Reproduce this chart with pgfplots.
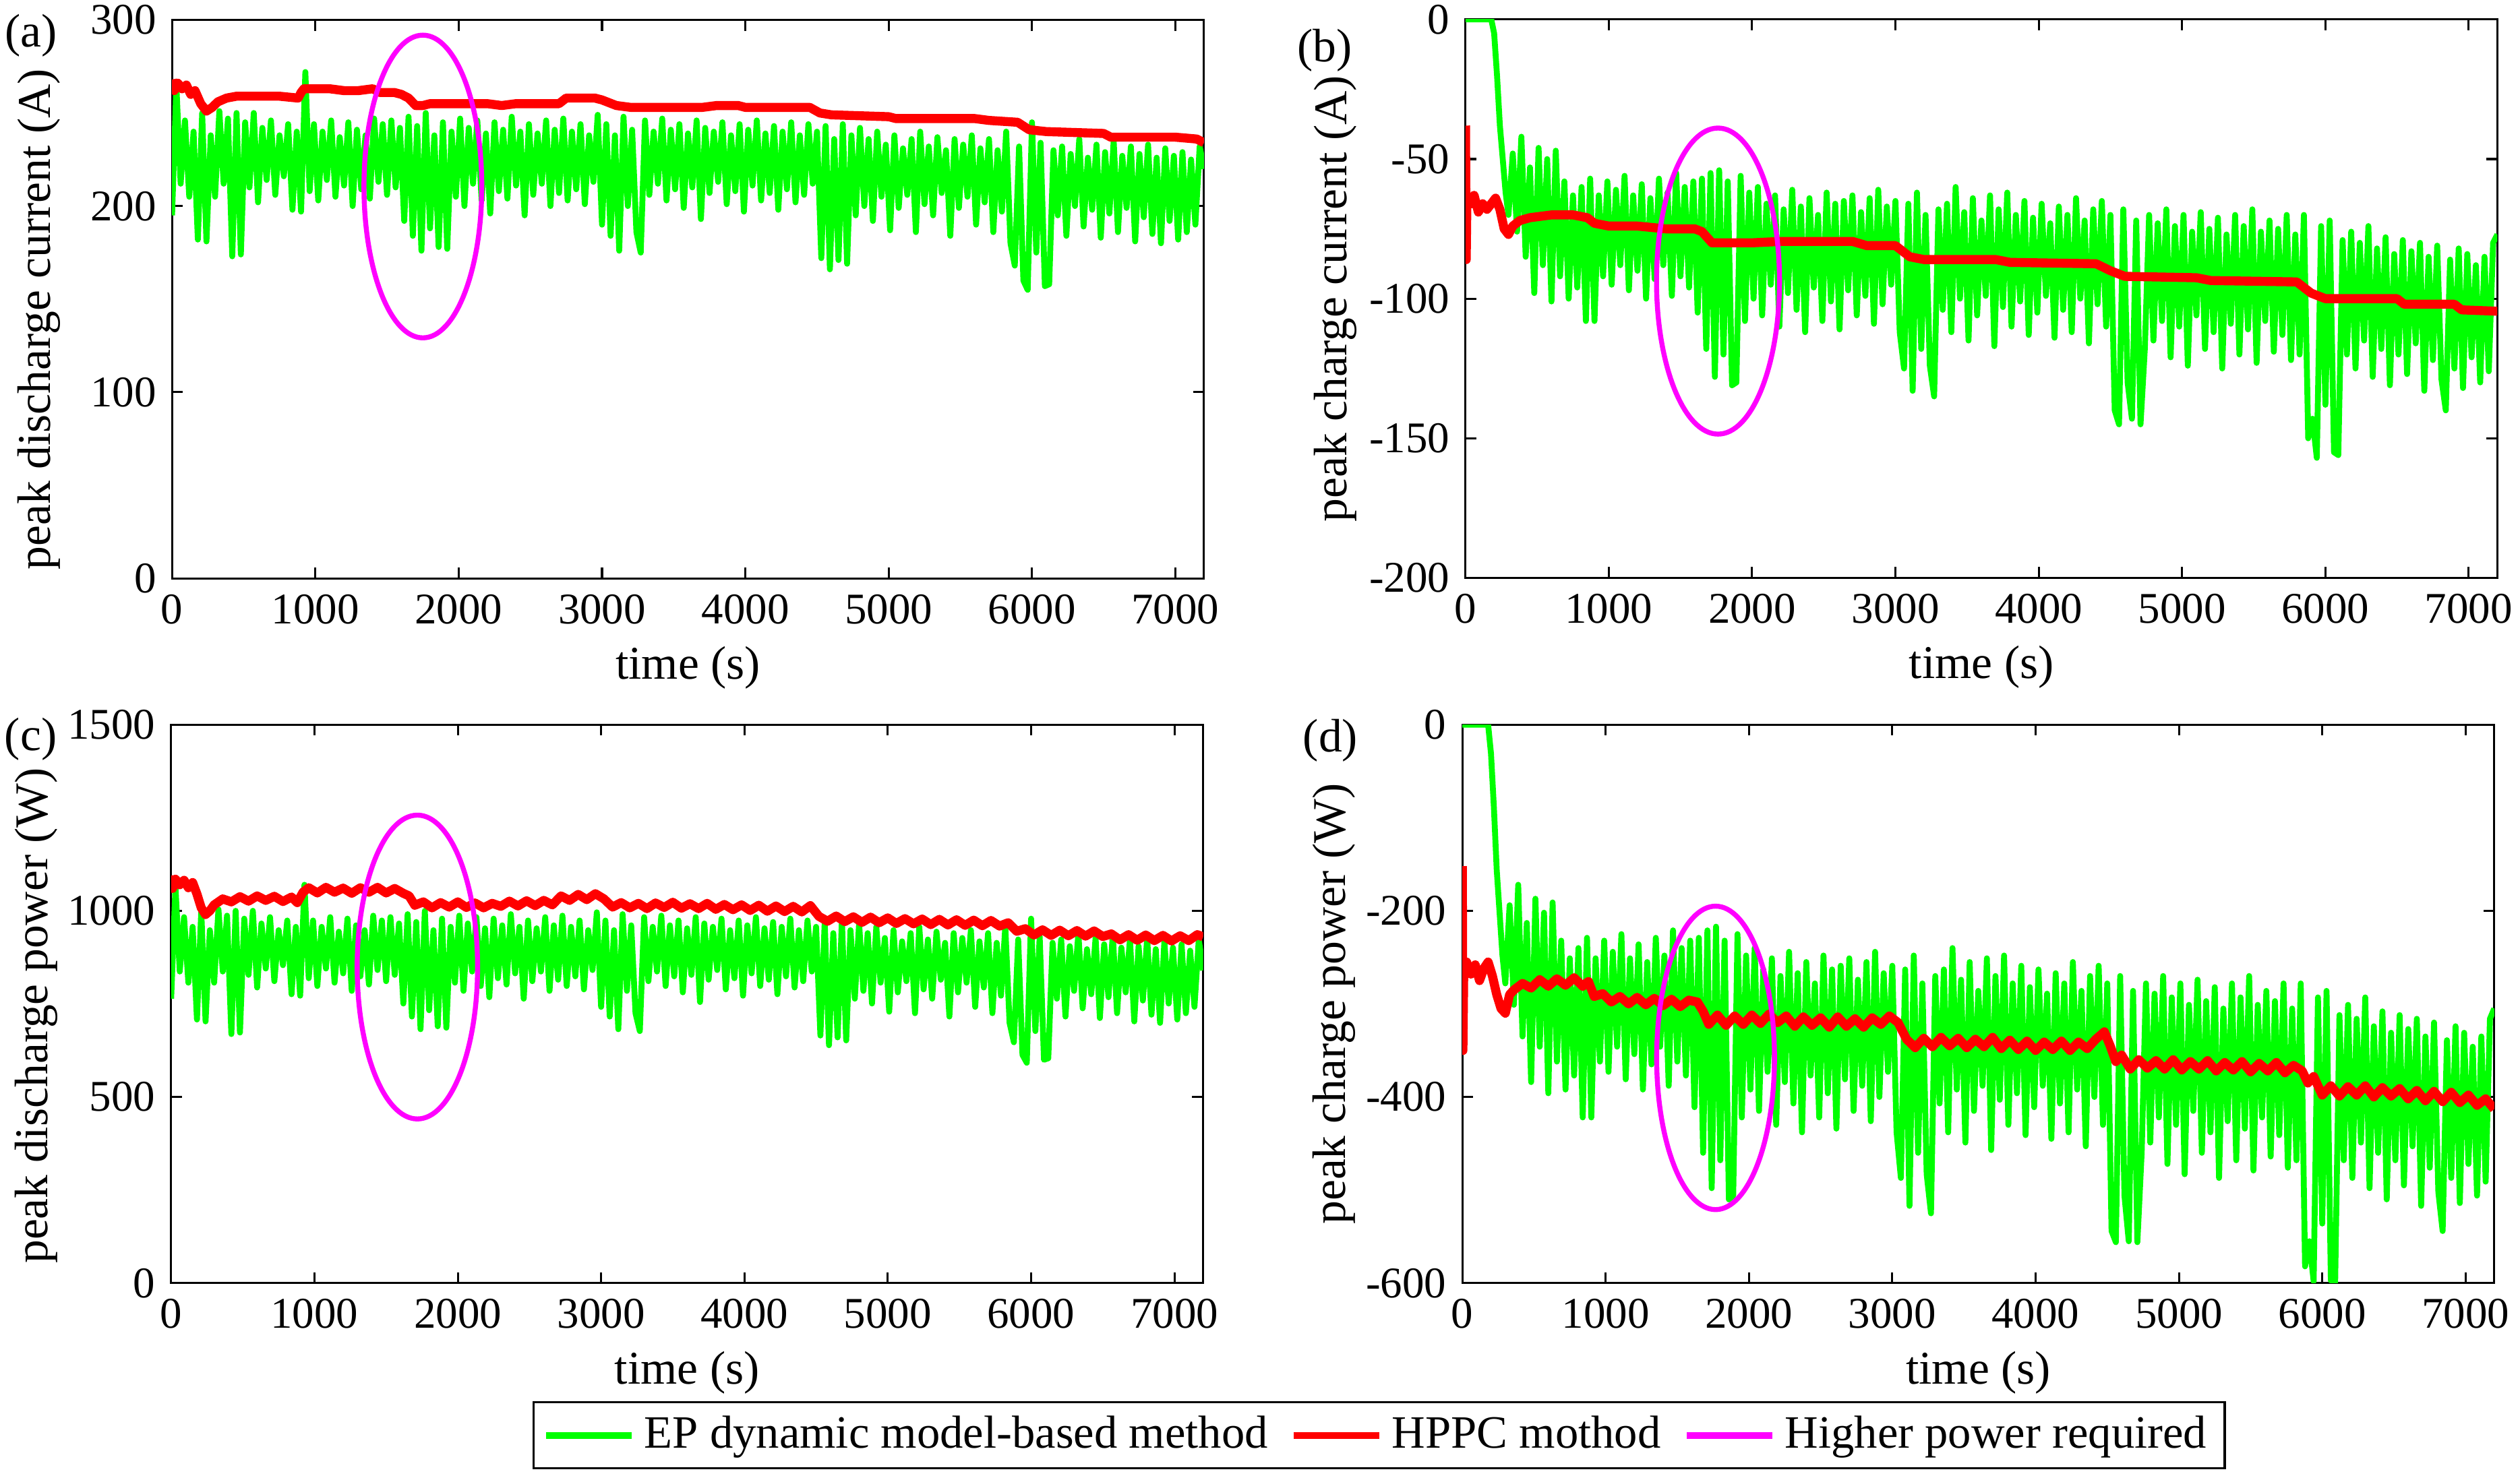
\documentclass[border=0pt]{standalone}
\usepackage{fontspec}
\setmainfont{Liberation Serif}
\usepackage{pgfplots}
\pgfplotsset{compat=1.18}
\definecolor{mgreen}{rgb}{0,1,0}
\definecolor{mred}{rgb}{1,0,0}
\definecolor{mmag}{rgb}{1,0,1}
\tikzset{eline/.style={mmag, line width=1.1pt}}
\pgfplotsset{
 panel/.style={
  scale only axis, width=228.5pt, height=123.7pt,
  xmin=0, xmax=7200,
  xtick={0,1000,2000,3000,4000,5000,6000,7000},
  tick align=inside,
  major tick length=2.4pt,
  axis line style={line width=0.45pt},
  every tick/.style={black, line width=0.45pt},
  scaled ticks=false,
  /pgf/number format/assume math mode=true,
  /pgf/number format/1000 sep={},
  tick label style={font=\fontsize{9.7}{11}\selectfont},
  xlabel={time (s)},
  label style={font=\fontsize{10.4}{12}\selectfont},
  xlabel style={at={(axis description cs:0.5,-0.160)}, anchor=center},
 },
 gline/.style={mgreen, line width=1.3pt, line join=round},
 rline/.style={mred, line width=2pt, line join=round},
}
\begin{document}
\begin{tikzpicture}
\path[use as bounding box] (0pt,0pt) rectangle (558pt,-327.3pt);
\node[font=\fontsize{10.4}{12}\selectfont] at (6.9pt,-7.8pt) {(a)};
\node[font=\fontsize{10.4}{12}\selectfont] at (293.3pt,-11.2pt) {(b)};
\node[font=\fontsize{10.4}{12}\selectfont] at (6.8pt,-163.7pt) {(c)};
\node[font=\fontsize{10.4}{12}\selectfont] at (294.6pt,-164pt) {(d)};

% (a)
\begin{axis}[panel, at={(38.1pt,-128.1pt)}, anchor=south west,
  ymin=0, ymax=300, ytick={0,100,200,300},
  ylabel={peak discharge current (A)},
  ylabel style={at={(axis description cs:-0.129,0.464)}, anchor=center}]
\addplot[gline] coordinates {(0,195)(30,265)(60,212)(90,246)(120,205)(150,240)(180,182)(210,250)(240,181)(270,238)(300,205)(330,251)(360,212)(390,247)(420,173)(450,250)(480,174)(510,245)(540,210)(570,250)(600,202)(630,242)(660,214)(690,246)(720,206)(750,238)(780,216)(810,244)(840,198)(870,240)(900,197)(930,272)(960,208)(990,244)
(1020,203)(1050,240)(1080,214)(1110,246)(1140,205)(1170,237)(1200,211)(1230,245)(1260,200)(1290,241)(1320,209)(1350,238)(1380,204)(1410,247)(1440,213)(1470,244)(1500,206)(1530,246)(1560,210)(1590,242)(1620,192)(1650,248)(1680,184)(1710,243)(1740,176)(1770,250)(1800,188)(1830,238)(1860,178)(1890,245)(1920,177)(1950,240)
(1980,205)(2010,247)(2040,200)(2070,242)(2100,212)(2130,246)(2160,203)(2190,239)(2220,196)(2250,245)(2280,208)(2310,241)(2340,204)(2370,248)(2400,211)(2430,240)(2460,195)(2490,244)(2520,206)(2550,239)(2580,212)(2610,246)(2640,200)(2670,241)(2700,207)(2730,247)(2760,203)(2790,240)(2820,209)(2850,244)(2880,201)(2910,238)(2940,213)(2970,249)
(3000,190)(3030,244)(3060,184)(3090,238)(3120,176)(3150,248)(3180,200)(3210,241)(3240,186)(3270,175)(3300,246)
(3330,206)(3360,240)(3390,212)(3420,247)(3450,203)(3480,241)(3510,209)(3540,244)(3570,199)(3600,239)(3630,210)(3660,246)(3690,193)(3720,242)(3750,207)(3780,240)(3810,213)(3840,245)(3870,201)(3900,238)(3930,208)(3960,244)(3990,197)(4020,241)(4050,211)(4080,246)(4110,203)(4140,239)(4170,207)(4200,243)(4230,198)(4260,240)(4290,209)(4320,245)(4350,202)(4380,238)(4410,206)(4440,244)(4470,212)
(4500,240)(4530,172)(4560,243)(4590,166)(4620,236)(4650,171)(4680,244)(4710,169)(4740,238)(4770,195)(4800,242)
(4830,200)(4860,236)(4890,192)(4920,240)(4950,205)(4980,233)(5010,187)(5040,238)(5070,199)(5100,231)(5130,206)(5160,236)(5190,186)(5220,240)(5250,201)(5280,232)(5310,195)(5340,237)(5370,207)(5400,230)(5430,184)(5460,236)(5490,199)(5520,233)(5550,205)(5580,238)(5610,190)(5640,231)(5670,202)(5700,236)(5730,186)(5760,230)(5790,197)
(5820,240)(5850,180)(5880,168)(5910,232)(5940,160)(5970,155)(6000,245)(6030,175)(6060,234)(6090,157)(6120,158)(6150,230)
(6180,195)(6210,232)(6240,184)(6270,228)(6300,200)(6330,236)(6360,189)(6390,226)(6420,198)(6450,233)(6480,183)(6510,229)(6540,196)(6570,235)(6600,186)(6630,227)(6660,199)(6690,232)(6720,181)(6750,228)(6780,194)(6810,233)(6840,185)(6870,226)(6900,180)(6930,231)(6960,192)(6990,227)(7020,182)(7050,229)(7080,186)(7110,225)(7140,190)(7170,232)(7200,220)};
\addplot[rline] coordinates {(0,268)(15,262)(40,266)(70,263)(100,265)(130,260)(160,262)(200,255)(240,251)(280,253)(320,256)(380,258)(450,259)(600,259)(750,259)(880,258)(900,261)(920,263)(1000,263)(1100,263)(1200,262)(1300,262)(1400,263)(1450,261)(1550,261)(1600,260)(1650,258)(1700,254)(1750,254)(1800,255)(2000,255)(2200,255)(2300,254)(2400,255)(2700,255)(2750,258)(2950,258)(3000,257)(3100,254)(3200,253)(3500,253)(3700,253)(3800,254)(3950,254)(4000,253)(4450,253)(4520,250)(4600,249)(5000,248)(5050,247)(5600,247)(5700,246)(5900,245)(5980,241)(6100,240)(6500,239)(6550,237)(7000,237)(7150,236)(7200,234)};
\draw[eline] (axis cs:1750,210.5) ellipse [x radius=411, y radius=81.3];
\end{axis}

% (b)
\begin{axis}[panel, at={(324.5pt,-128.0pt)}, anchor=south west,
  ymin=-200, ymax=0, ytick={-200,-150,-100,-50,0},
  ylabel={peak charge current (A)},
  ylabel style={at={(axis description cs:-0.126,0.5)}, anchor=center}]
\addplot[gline] coordinates {(0,0)(30,0)(60,0)(90,0)(120,0)(150,0)(180,0)(200,-5)(220,-20)(240,-38)(260,-50)(280,-62)(300,-70)(330,-48)(360,-76)(390,-42)(420,-85)(450,-53)(480,-98)(510,-46)(540,-88)(570,-50)(600,-101)(630,-47)(660,-92)(690,-58)(720,-100)(750,-63)(780,-96)(810,-60)(840,-108)(870,-57)(900,-108)(930,-63)(960,-92)(990,-58)
(1020,-95)(1050,-61)(1080,-88)(1110,-56)(1140,-97)(1170,-63)(1200,-90)(1230,-59)(1260,-100)(1290,-64)(1320,-93)(1350,-57)(1380,-88)(1410,-62)(1440,-99)(1470,-55)(1500,-92)(1530,-60)(1560,-96)(1590,-58)(1620,-105)(1650,-57)(1680,-118)(1710,-55)(1740,-128)(1770,-54)(1800,-120)(1830,-58)(1860,-131)(1890,-130)(1920,-56)(1950,-108)
(1980,-62)(2010,-100)(2040,-60)(2070,-106)(2100,-66)(2130,-95)(2160,-63)(2190,-110)(2220,-68)(2250,-98)(2280,-61)(2310,-104)(2340,-67)(2370,-112)(2400,-64)(2430,-96)(2460,-70)(2490,-108)(2520,-62)(2550,-101)(2580,-66)(2610,-111)(2640,-65)(2670,-97)(2700,-63)(2730,-106)(2760,-69)(2790,-99)(2820,-64)(2850,-109)(2880,-61)(2910,-102)(2940,-67)(2970,-95)
(3000,-65)(3030,-112)(3060,-125)(3090,-66)(3120,-133)(3150,-62)(3180,-118)(3210,-70)(3240,-124)(3270,-135)(3300,-68)
(3330,-104)(3360,-66)(3390,-112)(3420,-60)(3450,-100)(3480,-69)(3510,-115)(3540,-64)(3570,-106)(3600,-72)(3630,-99)(3660,-63)(3690,-117)(3720,-68)(3750,-103)(3780,-62)(3810,-110)(3840,-70)(3870,-101)(3900,-65)(3930,-113)(3960,-71)(3990,-105)(4020,-66)(4050,-99)(4080,-73)(4110,-114)(4140,-67)(4170,-104)(4200,-70)(4230,-112)(4260,-64)(4290,-100)(4320,-72)(4350,-116)(4380,-68)(4410,-102)(4440,-65)(4470,-110)
(4500,-70)(4530,-140)(4560,-145)(4590,-68)(4620,-130)(4650,-143)(4680,-72)(4710,-145)(4740,-118)(4770,-70)(4800,-115)
(4830,-73)(4860,-108)(4890,-68)(4920,-121)(4950,-74)(4980,-110)(5010,-70)(5040,-124)(5070,-76)(5100,-106)(5130,-69)(5160,-118)(5190,-75)(5220,-112)(5250,-71)(5280,-125)(5310,-77)(5340,-109)(5370,-70)(5400,-120)(5430,-74)(5460,-111)(5490,-68)(5520,-123)(5550,-76)(5580,-108)(5610,-72)(5640,-119)(5670,-75)(5700,-113)(5730,-70)(5760,-122)(5790,-77)
(5820,-120)(5850,-70)(5880,-150)(5910,-143)(5940,-157)(5970,-74)(6000,-138)(6030,-72)(6060,-155)(6090,-156)(6120,-79)
(6150,-120)(6180,-76)(6210,-125)(6240,-80)(6270,-115)(6300,-74)(6330,-128)(6360,-82)(6390,-118)(6420,-78)(6450,-131)(6480,-84)(6510,-120)(6540,-79)(6570,-127)(6600,-83)(6630,-116)(6660,-80)(6690,-133)(6720,-85)(6750,-122)(6780,-81)(6810,-129)(6840,-140)(6870,-86)(6900,-125)(6930,-82)(6960,-132)(6990,-84)(7020,-121)(7050,-88)(7080,-130)(7110,-85)(7140,-126)(7170,-80)(7200,-77)};
\addplot[rline] coordinates {(0,-38)(5,-86)(10,-64)(40,-66)(60,-63)(90,-69)(120,-66)(150,-68)(180,-66)(210,-64)(240,-68)(270,-75)(300,-77)(330,-74)(380,-72)(450,-71)(600,-70)(750,-70)(850,-71)(900,-73)(1000,-74)(1200,-74)(1400,-75)(1600,-75)(1650,-76)(1720,-80)(1800,-80)(2000,-80)(2200,-79.5)(2700,-79.5)(2800,-81)(3000,-81)(3100,-85)(3200,-86)(3700,-86)(3800,-87)(4400,-87.5)(4500,-90)(4600,-92)(5100,-92.5)(5200,-93.5)(5800,-94)(5900,-98)(6000,-100)(6500,-100)(6550,-102)(6900,-102)(6950,-104)(7200,-104.5)};
\draw[eline] (axis cs:1762,-93.7) ellipse [x radius=429, y radius=54.8];
\end{axis}

% (c)
\begin{axis}[panel, at={(37.9pt,-284.2pt)}, anchor=south west,
  ymin=0, ymax=1500, ytick={0,500,1000,1500},
  ylabel={peak discharge power (W)},
  ylabel style={at={(axis description cs:-0.131,0.479)}, anchor=center}]
\addplot[gline] coordinates {(0,764)(30,1065)(60,837)(90,983)(120,807)(150,957)(180,708)(210,1000)(240,703)(270,948)(300,807)(330,1004)(360,837)(390,987)(420,669)(450,1000)(480,673)(510,979)(540,828)(570,1000)(600,794)(630,966)(660,845)(690,983)(720,811)(750,948)(780,854)(810,974)(840,776)(870,957)(900,772)(930,1070)(960,819)(990,974)
(1020,798)(1050,957)(1080,845)(1110,983)(1140,807)(1170,944)(1200,832)(1230,979)(1260,785)(1290,961)(1320,824)(1350,948)(1380,802)(1410,987)(1440,841)(1470,974)(1500,811)(1530,983)(1560,828)(1590,966)(1620,751)(1650,991)(1680,716)(1710,970)(1740,682)(1770,1000)(1800,733)(1830,948)(1860,690)(1890,979)(1920,686)(1950,957)
(1980,807)(2010,987)(2040,785)(2070,966)(2100,837)(2130,983)(2160,798)(2190,953)(2220,768)(2250,979)(2280,819)(2310,961)(2340,802)(2370,991)(2400,832)(2430,957)(2460,764)(2490,974)(2520,811)(2550,953)(2580,837)(2610,983)(2640,785)(2670,961)(2700,815)(2730,987)(2760,798)(2790,957)(2820,824)(2850,974)(2880,789)(2910,948)(2940,841)(2970,996)
(3000,742)(3030,974)(3060,716)(3090,948)(3120,682)(3150,991)(3180,785)(3210,961)(3240,725)(3270,677)(3300,983)
(3330,811)(3360,957)(3390,837)(3420,987)(3450,798)(3480,961)(3510,824)(3540,974)(3570,781)(3600,953)(3630,828)(3660,983)(3690,755)(3720,966)(3750,815)(3780,957)(3810,841)(3840,979)(3870,789)(3900,948)(3930,819)(3960,974)(3990,772)(4020,961)(4050,832)(4080,983)(4110,798)(4140,953)(4170,815)(4200,970)(4230,776)(4260,957)(4290,824)(4320,979)(4350,794)(4380,948)(4410,811)(4440,974)(4470,837)
(4500,957)(4530,665)(4560,970)(4590,639)(4620,940)(4650,660)(4680,974)(4710,652)(4740,948)(4770,764)(4800,966)
(4830,785)(4860,940)(4890,751)(4920,957)(4950,807)(4980,927)(5010,729)(5040,948)(5070,781)(5100,918)(5130,811)(5160,940)(5190,725)(5220,957)(5250,789)(5280,923)(5310,764)(5340,944)(5370,815)(5400,914)(5430,716)(5460,940)(5490,781)(5520,927)(5550,807)(5580,948)(5610,742)(5640,918)(5670,794)(5700,940)(5730,725)(5760,914)(5790,772)
(5820,957)(5850,699)(5880,647)(5910,923)(5940,613)(5970,592)(6000,979)(6030,677)(6060,931)(6090,600)(6120,604)(6150,914)
(6180,764)(6210,923)(6240,716)(6270,905)(6300,785)(6330,940)(6360,738)(6390,897)(6420,776)(6450,927)(6480,712)(6510,910)(6540,768)(6570,936)(6600,725)(6630,901)(6660,781)(6690,923)(6720,703)(6750,905)(6780,759)(6810,927)(6840,721)(6870,897)(6900,699)(6930,918)(6960,751)(6990,901)(7020,708)(7050,910)(7080,725)(7110,893)(7140,742)(7170,923)(7200,840)};
\addplot[rline] coordinates {(0,1095)(10,1060)(30,1085)(60,1070)(90,1082)(120,1062)(150,1076)(180,1045)(210,1008)(240,990)(270,1000)(300,1016)(360,1032)(420,1024)(480,1038)(540,1026)(600,1040)(660,1028)(720,1039)(780,1025)(840,1037)(880,1022)(920,1050)(960,1062)(1020,1048)(1080,1063)(1140,1050)(1200,1061)(1260,1047)(1320,1062)(1380,1050)(1440,1063)(1500,1048)(1560,1060)(1620,1047)(1660,1040)(1700,1015)(1760,1024)(1820,1008)(1880,1022)(1940,1010)(2000,1024)(2060,1009)(2120,1021)(2180,1008)(2240,1020)(2300,1012)(2360,1026)(2420,1013)(2480,1027)(2540,1014)(2600,1028)(2660,1016)(2720,1040)(2780,1028)(2840,1044)(2900,1030)(2960,1046)(3020,1032)(3080,1010)(3140,1022)(3200,1008)(3260,1020)(3320,1006)(3380,1021)(3440,1009)(3500,1023)(3560,1007)(3620,1019)(3680,1006)(3740,1020)(3800,1004)(3860,1017)(3920,1003)(3980,1016)(4040,1001)(4100,1015)(4160,999)(4220,1013)(4280,998)(4340,1012)(4400,997)(4460,1014)(4520,985)(4580,972)(4640,986)(4700,971)(4760,984)(4820,969)(4880,983)(4940,968)(5000,981)(5060,966)(5120,979)(5180,965)(5240,978)(5300,963)(5360,977)(5420,962)(5480,976)(5540,961)(5600,975)(5660,960)(5720,974)(5780,959)(5840,968)(5900,945)(5960,952)(6020,935)(6080,949)(6140,934)(6200,948)(6260,933)(6320,947)(6380,932)(6440,946)(6500,931)(6560,938)(6620,922)(6680,936)(6740,921)(6800,935)(6860,920)(6920,934)(6980,919)(7040,933)(7100,920)(7160,936)(7200,930)};
\draw[eline] (axis cs:1718,849) ellipse [x radius=420, y radius=408];
\end{axis}

% (d)
\begin{axis}[panel, at={(323.8pt,-284.2pt)}, anchor=south west,
  ymin=-600, ymax=0, ytick={-600,-400,-200,0},
  ylabel={peak charge power (W)},
  ylabel style={at={(axis description cs:-0.124,0.5)}, anchor=center}]
\addplot[gline] coordinates {(0,0)(30,0)(60,0)(90,0)(120,0)(150,0)(180,0)(200,-31)(220,-88)(240,-156)(260,-202)(280,-248)(300,-278)(330,-194)(360,-301)(390,-172)(420,-335)(450,-213)(480,-384)(510,-187)(540,-346)(570,-202)(600,-396)(630,-191)(660,-362)(690,-232)(720,-392)(750,-251)(780,-377)(810,-240)(840,-422)(870,-229)(900,-422)(930,-251)(960,-362)(990,-232)
(1020,-373)(1050,-244)(1080,-346)(1110,-225)(1140,-381)(1170,-251)(1200,-354)(1230,-236)(1260,-392)(1290,-255)(1320,-365)(1350,-229)(1380,-346)(1410,-248)(1440,-388)(1470,-221)(1500,-362)(1530,-240)(1560,-377)(1590,-232)(1620,-411)(1650,-229)(1680,-460)(1710,-221)(1740,-498)(1770,-217)(1800,-468)(1830,-232)(1860,-510)(1890,-506)(1920,-225)(1950,-422)
(1980,-248)(2010,-392)(2040,-240)(2070,-415)(2100,-263)(2130,-373)(2160,-251)(2190,-430)(2220,-270)(2250,-384)(2280,-244)(2310,-407)(2340,-267)(2370,-438)(2400,-255)(2430,-377)(2460,-278)(2490,-422)(2520,-248)(2550,-396)(2580,-263)(2610,-434)(2640,-259)(2670,-381)(2700,-251)(2730,-415)(2760,-274)(2790,-388)(2820,-255)(2850,-426)(2880,-244)(2910,-400)(2940,-267)(2970,-373)
(3000,-259)(3030,-438)(3060,-487)(3090,-263)(3120,-517)(3150,-248)(3180,-460)(3210,-278)(3240,-483)(3270,-525)(3300,-270)
(3330,-407)(3360,-263)(3390,-438)(3420,-240)(3450,-392)(3480,-274)(3510,-449)(3540,-255)(3570,-415)(3600,-286)(3630,-388)(3660,-251)(3690,-457)(3720,-270)(3750,-403)(3780,-248)(3810,-430)(3840,-278)(3870,-396)(3900,-259)(3930,-441)(3960,-282)(3990,-411)(4020,-263)(4050,-388)(4080,-289)(4110,-445)(4140,-267)(4170,-407)(4200,-278)(4230,-438)(4260,-255)(4290,-392)(4320,-286)(4350,-453)(4380,-270)(4410,-400)(4440,-259)(4470,-430)
(4500,-278)(4530,-544)(4560,-556)(4590,-270)(4620,-506)(4650,-555)(4680,-286)(4710,-556)(4740,-460)(4770,-278)(4800,-449)
(4830,-289)(4860,-422)(4890,-270)(4920,-472)(4950,-293)(4980,-430)(5010,-278)(5040,-483)(5070,-301)(5100,-415)(5130,-274)(5160,-460)(5190,-297)(5220,-438)(5250,-282)(5280,-487)(5310,-305)(5340,-426)(5370,-278)(5400,-468)(5430,-293)(5460,-434)(5490,-270)(5520,-479)(5550,-301)(5580,-422)(5610,-286)(5640,-464)(5670,-297)(5700,-441)(5730,-278)(5760,-476)(5790,-305)
(5820,-468)(5850,-278)(5880,-582)(5910,-555)(5940,-598)(5970,-293)(6000,-536)(6030,-286)(6060,-597)(6090,-599)(6120,-312)
(6150,-468)(6180,-301)(6210,-487)(6240,-316)(6270,-449)(6300,-293)(6330,-498)(6360,-324)(6390,-460)(6420,-308)(6450,-510)(6480,-331)(6510,-468)(6540,-312)(6570,-495)(6600,-327)(6630,-453)(6660,-316)(6690,-517)(6720,-335)(6750,-476)(6780,-320)(6810,-502)(6840,-544)(6870,-339)(6900,-487)(6930,-324)(6960,-514)(6990,-331)(7020,-472)(7050,-346)(7080,-506)(7110,-335)(7140,-491)(7170,-316)(7200,-305)};
\addplot[rline] coordinates {(0,-152)(4,-350)(10,-262)(30,-255)(60,-268)(90,-258)(120,-275)(150,-262)(180,-255)(210,-270)(240,-290)(270,-305)(300,-310)(330,-290)(360,-285)(420,-278)(480,-283)(540,-274)(600,-281)(660,-273)(720,-280)(780,-272)(840,-281)(880,-276)(920,-292)(980,-289)(1040,-298)(1100,-292)(1160,-300)(1220,-293)(1280,-301)(1340,-294)(1400,-302)(1460,-295)(1520,-303)(1580,-296)(1640,-298)(1680,-308)(1720,-322)(1780,-312)(1840,-323)(1900,-313)(1960,-322)(2020,-312)(2080,-321)(2140,-311)(2200,-320)(2260,-313)(2320,-324)(2380,-314)(2440,-323)(2500,-315)(2560,-325)(2620,-314)(2680,-324)(2740,-316)(2800,-325)(2860,-315)(2920,-322)(2980,-313)(3040,-320)(3100,-338)(3160,-347)(3220,-337)(3280,-346)(3340,-336)(3400,-345)(3460,-337)(3520,-347)(3580,-338)(3640,-346)(3700,-336)(3760,-348)(3820,-339)(3880,-349)(3940,-340)(4000,-350)(4060,-341)(4120,-349)(4180,-340)(4240,-350)(4300,-341)(4360,-348)(4420,-338)(4480,-330)(4520,-345)(4560,-362)(4600,-355)(4660,-370)(4720,-360)(4780,-369)(4840,-361)(4900,-370)(4960,-360)(5020,-371)(5080,-362)(5140,-370)(5200,-361)(5260,-372)(5320,-363)(5380,-371)(5440,-362)(5500,-373)(5560,-364)(5620,-372)(5680,-363)(5740,-374)(5800,-366)(5860,-372)(5900,-385)(5940,-378)(6000,-398)(6060,-388)(6120,-399)(6180,-389)(6240,-398)(6300,-388)(6360,-400)(6420,-390)(6480,-399)(6540,-391)(6600,-402)(6660,-393)(6720,-404)(6780,-394)(6840,-405)(6900,-395)(6960,-406)(7020,-398)(7080,-409)(7140,-402)(7200,-413)};
\draw[eline] (axis cs:1767,-358) ellipse [x radius=411, y radius=163];
\end{axis}

% legend
\begin{axis}[at={(305.4pt,-317.9pt)}, anchor=center, hide axis, scale only axis,
  width=10pt, height=10pt, xmin=0, xmax=1, ymin=0, ymax=1,
  legend columns=3,
  legend style={at={(0.5,0.5)}, anchor=center, draw=black, line width=0.5pt,
    font=\fontsize{10.25}{12}\selectfont, inner xsep=2pt, inner ysep=1pt,
    nodes={inner sep=2pt},
    /tikz/every even column/.append style={column sep=3pt}},
  legend image code/.code={\draw[#1, line width=1.5pt] (0pt,0pt) -- (19pt,0pt);}]
\addlegendimage{mgreen}
\addlegendentry{EP dynamic model-based method}
\addlegendimage{mred}
\addlegendentry{HPPC mothod}
\addlegendimage{mmag}
\addlegendentry{Higher power required}
\end{axis}
\end{tikzpicture}
\end{document}
